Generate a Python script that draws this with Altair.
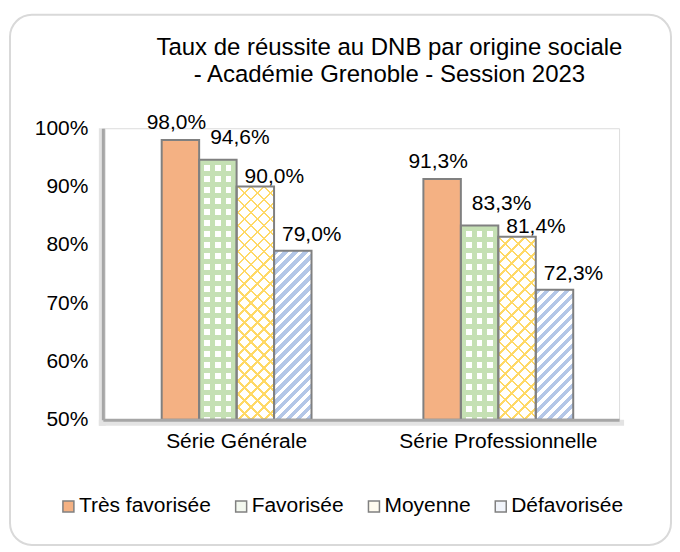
import altair as alt
import pandas as pd

# ---------------- data ----------------
series = ["Série Générale", "Série Professionnelle"]
categories = ["Très favorisée", "Favorisée", "Moyenne", "Défavorisée"]
values_generale = [98.0, 94.6, 90.0, 79.0]
values_pro = [91.3, 83.3, 81.4, 72.3]
y_ticks = [50, 60, 70, 80, 90, 100]
title_lines = ["Taux de réussite au DNB par origine sociale",
               " - Académie Grenoble - Session 2023"]

rows = []
for s, vals in zip(series, [values_generale, values_pro]):
    for c, v in zip(categories, vals):
        rows.append({"serie": s, "cat": c, "value": v})
df = pd.DataFrame(rows)

# ---------------- layout / style ----------------
W, H = 517, 292
Y0, Y1 = 50, 100
P_IN, P_OUT, ALIGN = 0.4275, 0.2, 0.562
FONT = "Liberation Sans"
GRAY = "#808080"
ORANGE, GREEN, YELLOW, BLUE = "#F4B183", "#C5E0B4", "#FFD966", "#B4C7E7"
TRANSP = "rgba(255,255,255,0)"

step = W / (2 - P_IN + 2 * P_OUT)
BAR_W = step * (1 - P_IN) / 4

label_shift = {  # dx, dy for the value labels of each category
    "Très favorisée": (-4, -11),
    "Favorisée": (22, -16),
    "Moyenne": (19, -4),
    "Défavorisée": (19, -10),
}
title_pos = [(287, -80.6), (287, -53.6)]

x_enc = alt.X("serie:N", sort=series,
              scale=alt.Scale(paddingInner=P_IN, paddingOuter=P_OUT, align=ALIGN),
              axis=alt.Axis(title=None, labelAngle=0, ticks=False, domainColor="#a6a6a6",
                            domainWidth=3, labelFontSize=21, labelPadding=11, labelLimit=0,
                            labelColor="#000000", labelFont=FONT, zindex=1))
xo_enc = alt.XOffset("cat:N", sort=categories, scale=alt.Scale(domain=categories))
y_enc = alt.Y("value:Q", scale=alt.Scale(domain=[Y0, Y1], zero=False, nice=False),
              axis=alt.Axis(title=None, values=y_ticks, labelExpr="datum.value + '%'",
                            grid=False, ticks=False, domainColor="#a6a6a6", domainWidth=3,
                            labelFontSize=21, labelPadding=15, labelColor="#000000",
                            labelFont=FONT, zindex=1))
y2_enc = alt.datum(Y0)


def bar_h(v):
    return (v - Y0) / (Y1 - Y0) * H


def stops_from(length, period, line, color, bg):
    out = []
    s = 0.0
    while s < length:
        for o, col in [(s, color), (s + line, color), (s + line, bg), (s + period, bg)]:
            out.append(alt.GradientStop(offset=round(min(1.0, o / length), 5), color=col))
        s += period
    return out


def diag_grad(h, period, line, color, bg, slash=True):
    w = BAR_W
    t = h / w
    L = w * (1 + t * t)
    st = []
    s = 0.0
    while s < w + h:
        for o, col in [(s, color), (s + line, color), (s + line, bg), (s + period, bg)]:
            st.append(alt.GradientStop(offset=round(min(1.0, o / L), 5), color=col))
        s += period
    if slash:
        return alt.Gradient(gradient="linear", x1=0, y1=0, x2=1, y2=t, stops=st)
    return alt.Gradient(gradient="linear", x1=0, y1=1, x2=1, y2=1 - t, stops=st)


def rows_grad(h, period, line, color, bg):
    return alt.Gradient(gradient="linear", x1=0, y1=0, x2=0, y2=1,
                        stops=stops_from(h, period, line, color, bg))


def cols_grad(period, line, color, bg):
    return alt.Gradient(gradient="linear", x1=0, y1=0, x2=1, y2=0,
                        stops=stops_from(BAR_W, period, line, color, bg))


def pattern_fills(cat, h):
    if cat == "Favorisée":
        return [rows_grad(h, 11, 5, GREEN, "#ffffff"), cols_grad(BAR_W / 3.5, 5, GREEN, TRANSP)]
    if cat == "Moyenne":
        return [diag_grad(h, 13, 2.4, YELLOW, "#ffffff", True),
                diag_grad(h, 13, 2.4, YELLOW, TRANSP, False)]
    if cat == "Défavorisée":
        return [diag_grad(h, 10, 5.5, BLUE, "#ffffff", True)]
    return []


base = alt.Chart(df)

# bars with legend colours
bars = base.mark_bar(strokeWidth=0).encode(
    x=x_enc, xOffset=xo_enc, y=y_enc, y2=y2_enc,
    fill=alt.Fill("cat:N", sort=categories,
                  scale=alt.Scale(domain=categories,
                                  range=[ORANGE, "#f3f8ef", "#fffbef", "#f1f4fa"]),
                  legend=alt.Legend(title=None, orient="none", legendX=-45, legendY=368,
                                    direction="horizontal", columns=4, symbolType="square",
                                    symbolSize=121, symbolStrokeColor=GRAY,
                                    symbolStrokeWidth=1.5, labelFontSize=21, labelFont=FONT,
                                    labelColor="#000000", labelOffset=0, columnPadding=19,
                                    labelLimit=400, padding=0)),
)

layers = []
one = pd.DataFrame({"k": [0]})
# axis shadows
layers.append(alt.Chart(one).mark_rect(color="#e3e3e3").encode(
    x=alt.value(-4), x2=alt.value(3), y=alt.value(0), y2=alt.value(H + 6)))
layers.append(alt.Chart(one).mark_rect(color="#e3e3e3").encode(
    x=alt.value(-4), x2=alt.value(W + 5), y=alt.value(H), y2=alt.value(H + 6)))

layers.append(bars)

# pattern overlays, one layer per patterned bar
for s, vals in zip(series, [values_generale, values_pro]):
    for c, v in zip(categories, vals):
        for g in pattern_fills(c, bar_h(v)):
            layers.append(
                base.mark_bar(fill=g, strokeWidth=0)
                .encode(x=x_enc, xOffset=xo_enc, y=y_enc, y2=y2_enc)
                .transform_filter((alt.datum.serie == s) & (alt.datum.cat == c))
            )

# outlines
layers.append(base.mark_bar(fillOpacity=0, stroke=GRAY, strokeWidth=2).encode(
    x=x_enc, xOffset=xo_enc, y=y_enc, y2=y2_enc))

# value labels
for c in categories:
    dx, dy = label_shift[c]
    layers.append(
        base.mark_text(dx=dx, dy=dy, baseline="alphabetic", align="center",
                       fontSize=21, font=FONT, color="#000000")
        .encode(x=x_enc, xOffset=xo_enc, y=y_enc, text="label:N")
        .transform_filter(alt.datum.cat == c)
        .transform_calculate(label="replace(format(datum.value, '.1f'), '.', ',') + '%'")
    )

# chart title (two lines)
for line, (tx, ty) in zip(title_lines, title_pos):
    layers.append(alt.Chart(one).mark_text(fontSize=24, font=FONT, color="#000000",
                                           align="center", baseline="middle").encode(
        x=alt.value(tx), y=alt.value(ty), text=alt.value(line)))

# rounded frame around the whole chart
layers.append(alt.Chart(one).mark_rect(fillOpacity=0, stroke="#d9d9d9", strokeWidth=2,
                                       cornerRadius=22).encode(
    x=alt.value(-93), x2=alt.value(569), y=alt.value(-113.6), y2=alt.value(417.4)))

chart = alt.layer(*layers).properties(
    width=W, height=H,
    padding={"left": 1, "top": 5, "right": 0, "bottom": 0},
).configure_view(stroke=None).configure(font=FONT)

chart.save("out.html", embed_options={"renderer": "svg", "actions": False})
